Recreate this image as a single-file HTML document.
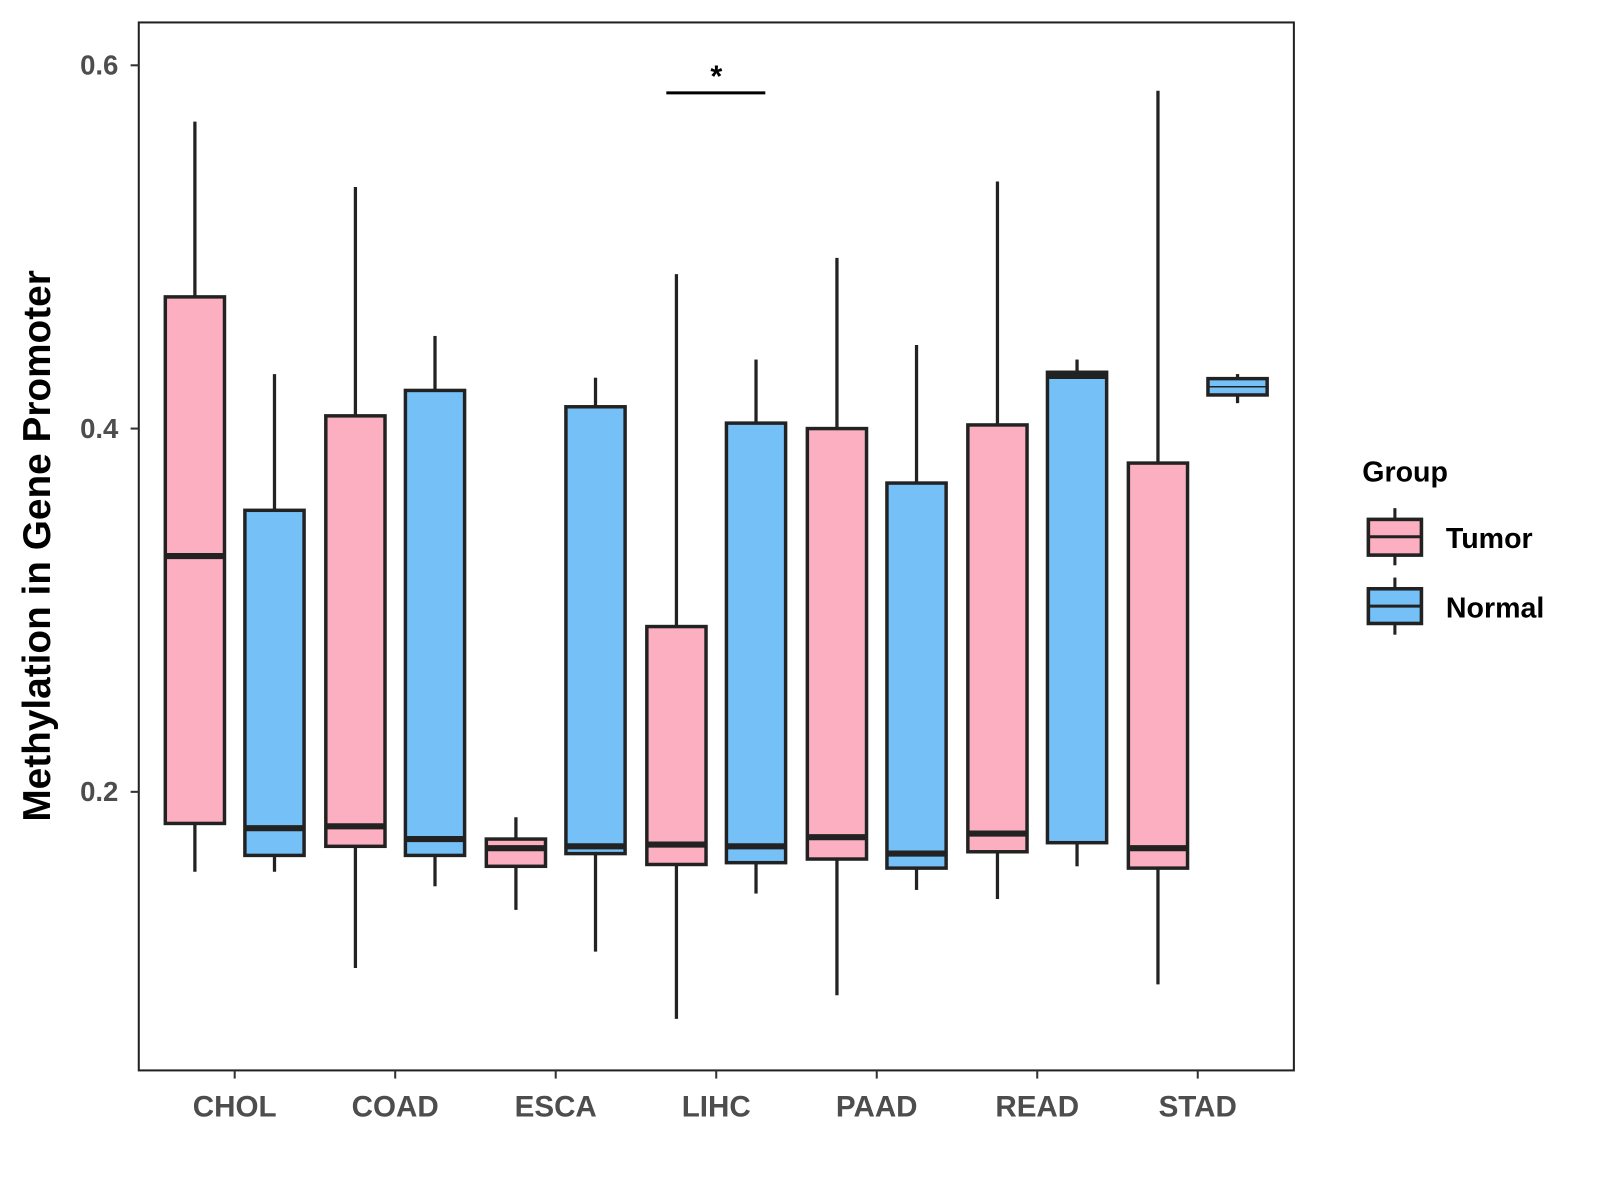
<!DOCTYPE html>
<html><head><meta charset="utf-8"><style>
body{margin:0;background:#fff}
svg{display:block;font-family:"Liberation Sans",Arial,sans-serif}
</style></head><body>
<svg id="chart" width="1600" height="1200" viewBox="0 0 1568 1176" preserveAspectRatio="none" xmlns="http://www.w3.org/2000/svg">
<rect x="136" y="22" width="1132" height="1027" fill="#fff" stroke="#222" stroke-width="2"/>
<g id="marks"></g>
<g id="axes"></g>
<text x="39" y="535" transform="rotate(-90 39 535)" text-anchor="middle" dominant-baseline="middle" font-size="38" font-weight="bold" fill="#000">Methylation in Gene Promoter</text>
<line x1="653" y1="91" x2="750" y2="91" stroke="#000" stroke-width="3"/>
<text x="702" y="85" text-anchor="middle" font-size="30" font-weight="bold">*</text>
<g>
<text x="1335" y="472" font-size="28" font-weight="bold">Group</text>
<g>
<line x1="1367" y1="498" x2="1367" y2="554" stroke="#222" stroke-width="3"/>
<rect x="1341" y="509" width="52" height="35" fill="#FBAFC0" stroke="#222" stroke-width="3.5"/>
<line x1="1341" y1="526" x2="1393" y2="526" stroke="#222" stroke-width="3"/>
<text x="1417" y="537" font-size="28" font-weight="bold">Tumor</text></g>
<g>
<line x1="1367" y1="566" x2="1367" y2="622" stroke="#222" stroke-width="3"/>
<rect x="1341" y="577" width="52" height="34" fill="#74C0F7" stroke="#222" stroke-width="3.5"/>
<line x1="1341" y1="594" x2="1393" y2="594" stroke="#222" stroke-width="3"/>
<text x="1417" y="605" font-size="28" font-weight="bold">Normal</text></g>
</g>
</svg>
<script>
const categories=["CHOL","COAD","ESCA","LIHC","PAAD","READ","STAD"];
const yTicks=[0.2,0.4,0.6];
const tumorMin=[0.156,0.103,0.135,0.075,0.088,0.141,0.094];
const tumorQ1=[0.1826,0.170,0.159,0.160,0.163,0.167,0.158];
const tumorMed=[0.3298,0.181,0.169,0.171,0.175,0.177,0.169];
const tumorQ3=[0.4725,0.407,0.174,0.291,0.400,0.402,0.381];
const tumorMax=[0.569,0.533,0.186,0.485,0.494,0.536,0.586];
const normalMin=[0.156,0.148,0.112,0.144,0.146,0.159,0.414];
const normalQ1=[0.165,0.165,0.166,0.161,0.158,0.172,0.4185];
const normalMed=[0.180,0.174,0.170,0.170,0.166,0.429,0.423];
const normalQ3=[0.355,0.421,0.412,0.403,0.370,0.431,0.4275];
const normalMax=[0.430,0.451,0.428,0.438,0.446,0.438,0.430];

const NS="http://www.w3.org/2000/svg";
function y(v){return 420-(v-0.4)*1780;}
function x(i){return 230+i*157.3;}
function mk(tag,attrs,parent){const e=document.createElementNS(NS,tag);for(const k in attrs)e.setAttribute(k,attrs[k]);parent.appendChild(e);return e;}
const marks=document.getElementById('marks'),axes=document.getElementById('axes');
function drawBox(cx,lo,q1,md,q3,hi,fill,name){
  const g=mk('g',{},marks);
  
  
  mk('line',{x1:cx,x2:cx,y1:y(hi),y2:y(q3),stroke:'#222','stroke-width':3.2},g);
  mk('line',{x1:cx,x2:cx,y1:y(q1),y2:y(lo),stroke:'#222','stroke-width':3.2},g);
  mk('rect',{x:cx-29,y:y(q3),width:58,height:y(q1)-y(q3),fill:fill,stroke:'#222','stroke-width':3.4},g);
  const thin=(y(q1)-y(q3))<20;
  mk('line',{x1:cx-29,x2:cx+29,y1:y(md),y2:y(md),stroke:'#222','stroke-width':thin?1.5:6},g);
}
categories.forEach((c,i)=>{
  drawBox(x(i)-39,tumorMin[i],tumorQ1[i],tumorMed[i],tumorQ3[i],tumorMax[i],'#FBAFC0','box-tumor-'+c.toLowerCase());
  drawBox(x(i)+39,normalMin[i],normalQ1[i],normalMed[i],normalQ3[i],normalMax[i],'#74C0F7','box-normal-'+c.toLowerCase());
  const t=mk('line',{x1:x(i),x2:x(i),y1:1049,y2:1057,stroke:'#333','stroke-width':2},axes);
  
  
  const l=mk('text',{x:x(i),y:1094,'text-anchor':'middle','font-size':29,'font-weight':'bold',fill:'#4d4d4d'},axes);
  l.textContent=c;
  
  
});
yTicks.forEach(v=>{
  const t=mk('line',{x1:128,x2:136,y1:y(v),y2:y(v),stroke:'#333','stroke-width':2},axes);
  
  
  const l=mk('text',{x:116,y:y(v)+9,'text-anchor':'end','font-size':27,'font-weight':'bold',fill:'#4d4d4d'},axes);
  l.textContent=v.toFixed(1);
  
  
});
</script>
</body></html>
